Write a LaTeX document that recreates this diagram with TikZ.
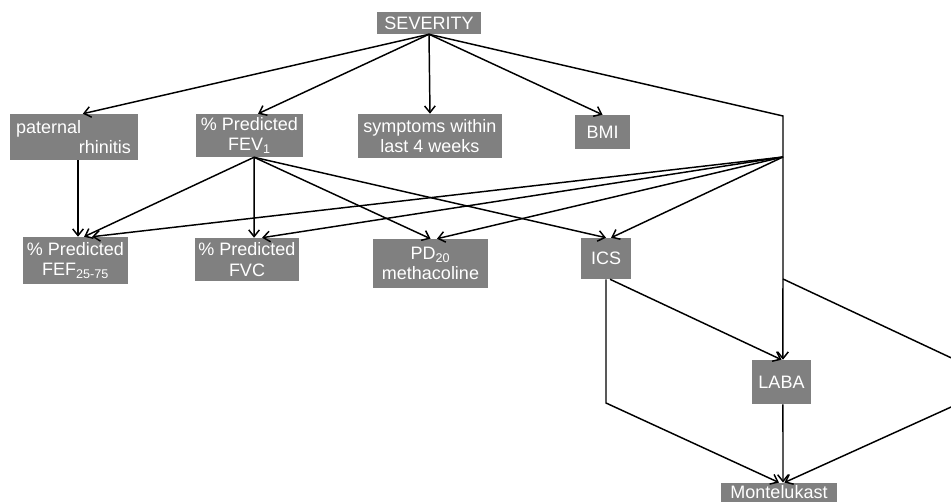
\documentclass[tikz,border=0pt]{standalone}
\usepackage{fontspec}
\setmainfont{Liberation Sans}
\usetikzlibrary{arrows.meta}
\definecolor{boxgray}{RGB}{128,128,128}
\tikzset{
  var/.style={fill=boxgray, text=white, inner sep=0pt, align=center,
    font=\fontsize{13.5}{15.5}\selectfont},
  link/.style={-{Straight Barb[length=5pt,width=8pt]}, line width=1.1pt},
  plain/.style={line width=1.1pt},
}

\begin{document}
\begin{tikzpicture}[x=0.75pt,y=-0.75pt]
\useasboundingbox (0,0) rectangle (951,502);
\clip (0,0) rectangle (951,502);

% variables
\node[var, minimum width=78pt, minimum height=16.5pt] (sev) at (429,23) {SEVERITY};
\node[var, inner xsep=5pt, text width=86pt, minimum height=34.5pt, align=left] (rhin) at (73.5,137) {paternal\\ \mbox{}\hfill rhinitis};
\node[var, minimum width=80.25pt, minimum height=32.25pt] (fev) at (249.5,135.5) {\% Predicted\\ FEV\textsubscript{1}};
\node[var, minimum width=108pt, minimum height=33pt] (sym) at (430,136) {symptoms within\\ last 4 weeks};
\node[var, minimum width=41.25pt, minimum height=25.5pt] (bmi) at (602.5,132) {BMI};
\node[var, minimum width=78.75pt, minimum height=35.25pt] (fef) at (75.5,260.5) {\% Predicted\\ FEF\textsubscript{25-75}};
\node[var, minimum width=78pt, minimum height=32.25pt] (fvc) at (247,259.5) {\% Predicted\\ FVC};
\node[var, minimum width=86.25pt, minimum height=36.75pt] (pd) at (430.5,263.5) {PD\textsubscript{20}\\ methacoline};
\node[var, minimum width=37.5pt, minimum height=30.75pt] (ics) at (606,258.5) {ICS};
\node[var, minimum width=44.25pt, minimum height=33pt] (laba) at (781.5,382) {LABA};
\node[var, minimum width=87pt, minimum height=14.5pt] (mont) at (779,492.5) {Montelukast};

% bend points
\coordinate (corner) at (783,116);
\coordinate (hub) at (783,157);
\coordinate (split) at (783,279);
\coordinate (leftbend) at (606,403);
\coordinate (rtop) at (960,362);
\coordinate (rbot) at (960,403);

% from severity
\draw[link] (sev.south) -- ([xshift=7pt]rhin.north);
\draw[link] (sev.south) -- ([xshift=6.4pt]fev.north);
\draw[link] (sev.south) -- (sym.north);
\draw[link] (sev.south) -- (bmi.north);
\draw[plain] (sev.south) -- (corner) -- (hub);

% second row
\draw[link] ([xshift=3.4pt]rhin.south) -- ([xshift=1.9pt]fef.north);
\draw[link] ([xshift=3.4pt]fev.south) -- ([xshift=6.4pt]fef.north);
\draw[link] ([xshift=3.4pt]fev.south) -- ([xshift=5.3pt]fvc.north);
\draw[link] ([xshift=3.4pt]fev.south) -- (pd.north);
\draw[link] ([xshift=3.4pt]fev.south) -- (ics.north);
\draw[link] (hub) -- ([xshift=12.4pt]fef.north);
\draw[link] (hub) -- ([xshift=11.3pt]fvc.north);
\draw[link] (hub) -- ([xshift=4.9pt]pd.north);
\draw[link] (hub) -- ([xshift=3.8pt]ics.north);
\draw[link] (hub) -- ([xshift=1.1pt]laba.north);

% treatment
\draw[link] ([xshift=3pt]ics.south) -- (laba.north);
\draw[link] (ics.south) -- (leftbend) -- (mont.north);
\draw[link] (split) -- (rtop) -- (rbot) -- ([xshift=4pt]mont.north);
\draw[link] ([xshift=1.1pt]laba.south) -- ([xshift=3pt]mont.north);
\end{tikzpicture}
\end{document}
